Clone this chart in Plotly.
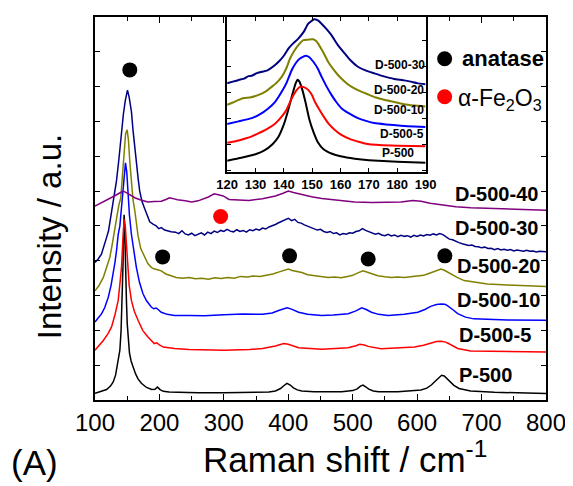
import plotly.graph_objects as go

# ---------------- main spectra (Raman shift, offset intensity) ----------------
p500_x = [100,110,118,124,128.3,132,135,138.6,140.5,142.1,143.5,144.5,145.2,146,147,148,148.8,150,151.4,153.5,156,159.1,163,167,172,180,188,193,197,201,206,215,230,260,300,340,370,380,388,393,398,403,408,414,421,440,483,500,507,512,516,520,525,532,540,570,606,615,622,628,634,638,642,647,652,657,665,683,720,800]
p500_y = [0.19,0.24,0.30,0.40,0.52,0.72,1.00,1.43,2.00,2.86,3.90,4.90,5.32,5.00,4.00,3.30,2.86,2.20,1.71,1.35,1.12,0.95,0.75,0.60,0.48,0.36,0.30,0.31,0.37,0.30,0.25,0.23,0.22,0.21,0.21,0.22,0.23,0.26,0.33,0.41,0.48,0.43,0.35,0.29,0.26,0.24,0.24,0.27,0.32,0.40,0.43,0.38,0.31,0.26,0.24,0.24,0.29,0.34,0.43,0.54,0.66,0.71,0.69,0.60,0.50,0.42,0.33,0.26,0.22,0.19]

d5_x = [100,106,112.9,120,125.7,131,136,139,141.1,143,145.2,147,148.8,150.4,153,156.5,161,166.8,174,182.2,188,192,196,200,206,223.4,246,300,340,360,380,393,400,408,416,452,493,505,511,518,524,544,580,596,610,621,630,637,643,648,655,663,683,740,800]
d5_y = [1.43,1.55,1.71,1.90,2.10,2.45,2.86,3.40,3.81,4.50,5.19,5.00,4.45,3.81,3.30,2.86,2.55,2.29,2.00,1.81,1.68,1.62,1.64,1.58,1.52,1.48,1.45,1.43,1.45,1.48,1.55,1.62,1.60,1.55,1.50,1.46,1.50,1.56,1.60,1.58,1.54,1.47,1.49,1.52,1.57,1.64,1.68,1.69,1.67,1.63,1.55,1.48,1.41,1.39,1.38]

d10_x = [100,105,110.3,115,120.6,125,128.3,131,133.4,136,138.6,141,143.7,145.5,147.3,149.3,151.4,153.5,156.5,160,164.2,169,174.5,180,187.4,191,195,198,202.8,212,223.4,246,270,300,330,360,375,385,392,398,405,416,430,452,470,493,505,514,521,529,540,555,580,601,612,621,630,637,643,647,655,663,675,688,740,800]
d10_y = [2.24,2.36,2.48,2.65,2.95,3.30,3.62,3.95,4.29,4.75,5.00,5.50,6.10,6.60,6.81,6.55,5.85,5.30,4.76,4.25,3.81,3.38,3.05,2.85,2.67,2.62,2.64,2.60,2.52,2.46,2.43,2.43,2.42,2.45,2.47,2.46,2.50,2.57,2.62,2.65,2.61,2.52,2.46,2.43,2.44,2.48,2.56,2.65,2.60,2.52,2.46,2.43,2.46,2.52,2.60,2.69,2.74,2.76,2.75,2.71,2.60,2.48,2.38,2.33,2.30,2.29]

d20_x = [100,106,112.9,118,123.1,127,130.8,134,137,140,142,143.7,145.5,147.5,149.9,152,154,156.5,159,161.7,164.2,166.8,171,177,182,187.4,192,196,202.8,210,218,226,236,246,256,266,276,286,296,306,316,326,336,346,356,366,376,386,394,400,406,413,421,430,440,452,462,472,482,492,500,508,516,524,532,539,550,560,570,580,590,600,610,616,624,631,637,643,652,662,673,690,709,740,770,800]
d20_y = [3.14,3.28,3.52,3.80,4.10,4.50,4.95,5.35,5.60,5.80,6.30,6.76,7.30,7.65,7.76,7.45,6.85,6.20,5.75,5.45,5.00,4.72,4.35,4.10,3.92,3.81,3.76,3.75,3.71,3.62,3.57,3.52,3.50,3.52,3.48,3.50,3.47,3.51,3.49,3.52,3.50,3.55,3.53,3.56,3.55,3.58,3.62,3.68,3.73,3.76,3.72,3.70,3.66,3.60,3.57,3.54,3.52,3.53,3.51,3.55,3.58,3.65,3.71,3.66,3.60,3.57,3.54,3.52,3.53,3.52,3.54,3.55,3.58,3.62,3.68,3.72,3.76,3.72,3.62,3.52,3.43,3.38,3.33,3.30,3.28,3.26]

d30_x = [100,105,110,114,118,121,125.7,130,133.4,137,141,144,147,150.4,153,156.5,159,161.7,164.2,167,169.4,173,177,181,185,190,195,199,203,208,213,218,
         225,230,235,240,245,250,255,260,265,270,275,280,285,290,295,300,305,310,315,320,325,330,335,340,345,350,355,360,365,370,375,380,385,390,395,400,
         405,410,415,420,425,430,435,440,445,450,455,460,465,470,475,480,485,490,495,500,505,510,515,520,525,530,535,540,545,550,555,560,565,570,575,580,
         585,590,595,600,605,610,615,620,625,630,635,640,645,650,655,660,665,670,675,680,685,690,695,700,705,710,715,720,725,730,735,740,745,750,755,760,
         765,770,775,780,785,790,795,800]
d30_y = [3.95,4.05,4.19,4.40,4.67,4.86,5.38,5.90,6.30,6.90,7.71,8.20,8.60,8.90,8.70,8.29,7.75,7.24,6.76,6.35,6.00,5.70,5.50,5.30,5.12,5.05,5.00,4.92,4.95,4.88,4.85,4.83,
         4.82,4.78,4.86,4.77,4.74,4.79,4.72,4.76,4.80,4.74,4.82,4.78,4.85,4.81,4.87,4.84,4.90,4.85,4.83,4.89,4.84,4.87,4.82,4.89,4.86,4.91,4.88,4.94,4.91,4.97,5.00,5.04,5.09,5.13,5.16,5.22,
         5.15,5.19,5.10,5.08,5.03,4.99,4.96,4.92,4.88,4.90,4.84,4.81,4.84,4.78,4.80,4.74,4.78,4.76,4.80,4.79,4.84,4.86,4.92,4.87,4.84,4.80,4.76,4.79,4.74,4.72,4.76,4.71,4.74,4.69,4.73,4.70,
         4.72,4.68,4.73,4.70,4.74,4.71,4.75,4.73,4.77,4.74,4.78,4.75,4.68,4.62,4.60,4.55,4.52,4.49,4.47,4.44,4.45,4.41,4.40,4.37,4.39,4.35,4.36,4.32,4.35,4.31,4.33,4.30,4.32,4.28,4.31,4.29,
         4.27,4.30,4.27,4.28,4.25,4.27,4.26,4.26]

d40_x = [100,110,120.6,130,137,143.7,150,156,161.7,170,182,192,202.8,210,215.6,220,228,240,250,260,267,276,285,292,299,308,320,339,360,380,392,400,408,421,436,452,475,503,530,555,575,593,606,620,637,660,683,710,735,770,800]
d40_y = [5.57,5.66,5.76,5.86,5.93,6.00,5.94,5.87,5.81,5.75,5.69,5.70,5.71,5.76,5.81,5.79,5.75,5.72,5.69,5.72,5.76,5.83,5.92,5.90,5.86,5.76,5.74,5.73,5.78,5.86,5.94,6.00,5.96,5.90,5.84,5.79,5.74,5.69,5.67,5.67,5.69,5.73,5.71,5.65,5.60,5.55,5.52,5.50,5.48,5.46,5.45]

series_names = ["P-500", "D-500-5", "D-500-10", "D-500-20", "D-500-30", "D-500-40"]
series_colors = ["#000000", "#FF0000", "#0000FF", "#808000", "#000080", "#800080"]
main_x = [p500_x, d5_x, d10_x, d20_x, d30_x, d40_x]
main_y = [p500_y, d5_y, d10_y, d20_y, d30_y, d40_y]

# label positions for the main curves
label_x = [662, 662, 658, 658, 655, 655]
label_y = [0.71, 1.86, 2.86, 3.86, 4.94, 5.91]

# markers
anatase_x = [154, 205, 402, 524, 643]
anatase_y = [9.48, 4.11, 4.14, 4.05, 4.14]
hematite_x = [295]
hematite_y = [5.27]

# ---------------- inset (120-190 cm-1) ----------------
in_p500_x = [120,125,130,133,136,138,140,141.5,143,144,144.8,145.5,146.5,147.5,149,150.5,152,154,157,160,165,170,180,190]
in_p500_y = [11.5,14.5,18,21.5,28,35,48,62,78,88,93,91,83,72,53,40,30,23,18.5,16,13.5,12,10.5,9.5]
in_d5_x = [120,122.9,126.7,128.7,131,134.6,137,139.3,141,142.8,144.5,145.8,147,148.6,150,150.9,152.5,154.4,156,157.9,160,163.8,169.6,177.8,190]
in_d5_y = [29.5,31,34,36,39,44.3,49,56,63,74.3,82.5,86,85.5,82.7,77,71,63,54.3,48,42.7,38,32.7,28.3,26.7,26]
in_d10_x = [120,124,128.7,131.5,134.6,137,139.3,141,142.8,144.3,145.7,147.7,149,150.4,152,153.3,155,156.8,158.5,160.3,163,166.1,169,171.9,176,181.3,186,190]
in_d10_y = [48.3,51,54.3,58,64.3,71,81,90,102.7,110,114.3,117,115.5,111,104,96,86.5,77.7,70.5,64.3,59,54.3,51.5,49.3,48,46.7,45.8,45.3]
in_d20_x = [120,122,124.1,126,128,131.1,133.5,135.8,137.5,139.3,140.8,142.2,143.7,145.1,146.9,148.5,150.4,151.3,152.1,153.8,155.6,157.3,159.1,161.5,163.8,166.5,169.6,172.5,175.4,179,182.4,186,190]
in_d20_y = [67.7,70,72.7,74.5,75,77.7,81,86,90,96,104,114.3,122,127.7,132.7,133.2,133.7,132,129.3,121,111,104,97.7,91,86,82,78.3,75,72.7,70.5,68.3,67,66]
in_d30_x = [120,122,124.1,126,127.5,128.7,130.5,132.3,134,136.9,138.5,140,141.6,143.3,145.1,147,148.6,150.7,152,153.3,155,156.8,159,161.5,163.5,166.1,169,171.9,175,178.9,182,184.8,187,190]
in_d30_y = [89.3,91,92.7,94,96.5,97,99.5,101,102,107.7,112,117,124.3,129.5,134.3,141,149.3,153.7,152.5,149.3,144,137.7,128,119.3,112.5,106,102,99.3,96.5,93.7,92.5,91,89.5,88.3]
inset_x = [in_p500_x, in_d5_x, in_d10_x, in_d20_x, in_d30_x]
inset_y = [in_p500_y, in_d5_y, in_d10_y, in_d20_y, in_d30_y]
inset_labels = ["P-500", "D-500-5", "D-500-10", "D-500-20", "D-500-30"]
inset_label_x = [173.8, 173.2, 171.0, 171.0, 171.3]
inset_label_y = [19.3, 38.3, 62.7, 82.7, 107.7]

FONT = "Liberation Sans, Arial, sans-serif"

fig = go.Figure()

for xs, ys, c in zip(main_x, main_y, series_colors):
    fig.add_trace(go.Scatter(x=xs, y=ys, mode="lines", line=dict(color=c, width=1.5),
                             showlegend=False, hoverinfo="skip"))

for xs, ys, c in zip(inset_x, inset_y, series_colors[:5]):
    fig.add_trace(go.Scatter(x=xs, y=ys, mode="lines", xaxis="x2", yaxis="y2",
                             line=dict(color=c, width=2, shape="spline", smoothing=0.4),
                             showlegend=False, hoverinfo="skip"))

fig.add_trace(go.Scatter(x=anatase_x, y=anatase_y, mode="markers",
                         marker=dict(color="black", size=15), showlegend=False, hoverinfo="skip"))
fig.add_trace(go.Scatter(x=hematite_x, y=hematite_y, mode="markers",
                         marker=dict(color="#FF0000", size=15), showlegend=False, hoverinfo="skip"))
# legend symbols
fig.add_trace(go.Scatter(x=[642.7, 642.7], y=[9.8, 8.71], mode="markers",
                         marker=dict(color=["black", "#FF0000"], size=15), showlegend=False, hoverinfo="skip"))

annotations = []
for name, lx, ly in zip(series_names, label_x, label_y):
    annotations.append(dict(x=lx, y=ly, xref="x", yref="y", text=name, showarrow=False,
                            xanchor="left", yanchor="middle",
                            font=dict(family=FONT, size=20, color="black", weight="bold")))
for name, lx, ly in zip(inset_labels, inset_label_x, inset_label_y):
    annotations.append(dict(x=lx, y=ly, xref="x2", yref="y2", text=name, showarrow=False,
                            xanchor="left", yanchor="middle",
                            font=dict(family=FONT, size=12, color="black", weight="bold")))

annotations += [
    dict(x=667, y=9.8, xref="x", yref="y", text="anatase", showarrow=False, xanchor="left",
         yanchor="middle", font=dict(family=FONT, size=22, color="black", weight="bold")),
    dict(x=661, y=8.62, xref="x", yref="y", text="α-Fe<sub>2</sub>O<sub>3</sub>", showarrow=False, xanchor="left",
         yanchor="middle", font=dict(family=FONT, size=23, color="black")),
    dict(x=-0.101, y=0.426, xref="paper", yref="paper", text="Intensity / a.u.", showarrow=False,
         textangle=-90, xanchor="center", yanchor="middle", font=dict(family=FONT, size=33, color="black")),
    dict(x=0.236, y=-0.150, xref="paper", yref="paper", text="Raman shift / cm<sup>-1</sup>", showarrow=False,
         xanchor="left", yanchor="middle", font=dict(family=FONT, size=35, color="black")),
    dict(x=-0.19, y=-0.162, xref="paper", yref="paper", text="(A)", showarrow=False,
         xanchor="left", yanchor="middle", font=dict(family=FONT, size=35, color="black")),
]

axis_common = dict(showline=True, linecolor="black", linewidth=1.5, mirror="allticks", ticks="inside",
                   tickcolor="black", showgrid=False, zeroline=False)

# the page body adds an 8 px offset, so the figure is 8 px smaller and the margins are shifted
fig.update_layout(
    width=565, height=478,
    margin=dict(l=87, r=24, t=7, b=86, pad=0),
    paper_bgcolor="white", plot_bgcolor="white",
    font=dict(family=FONT, color="black"),
    xaxis=dict(range=[100, 800], tickvals=[100, 200, 300, 400, 500, 600, 700, 800], ticklen=6, tickwidth=1.2,
               tickfont=dict(family=FONT, size=24), minor=dict(tickvals=[150, 250, 350, 450, 550, 650, 750],
                                                              ticklen=4, ticks="inside", tickcolor="black"),
               **axis_common),
    yaxis=dict(range=[0, 11], dtick=1, tick0=0, ticklen=5, tickwidth=1.2, showticklabels=False, **axis_common),
    xaxis2=dict(domain=[0.293, 0.733], anchor="y2", range=[120, 190], dtick=10, tick0=120, ticklen=4,
                tickfont=dict(family=FONT, size=13, weight="bold"), **axis_common),
    yaxis2=dict(domain=[0.595, 1.0], anchor="x2", range=[0, 156],
                tickvals=[2, 28, 54, 80, 106, 132], ticklen=4, showticklabels=False, **axis_common),
    annotations=annotations,
)

fig.write_html("out.html")
